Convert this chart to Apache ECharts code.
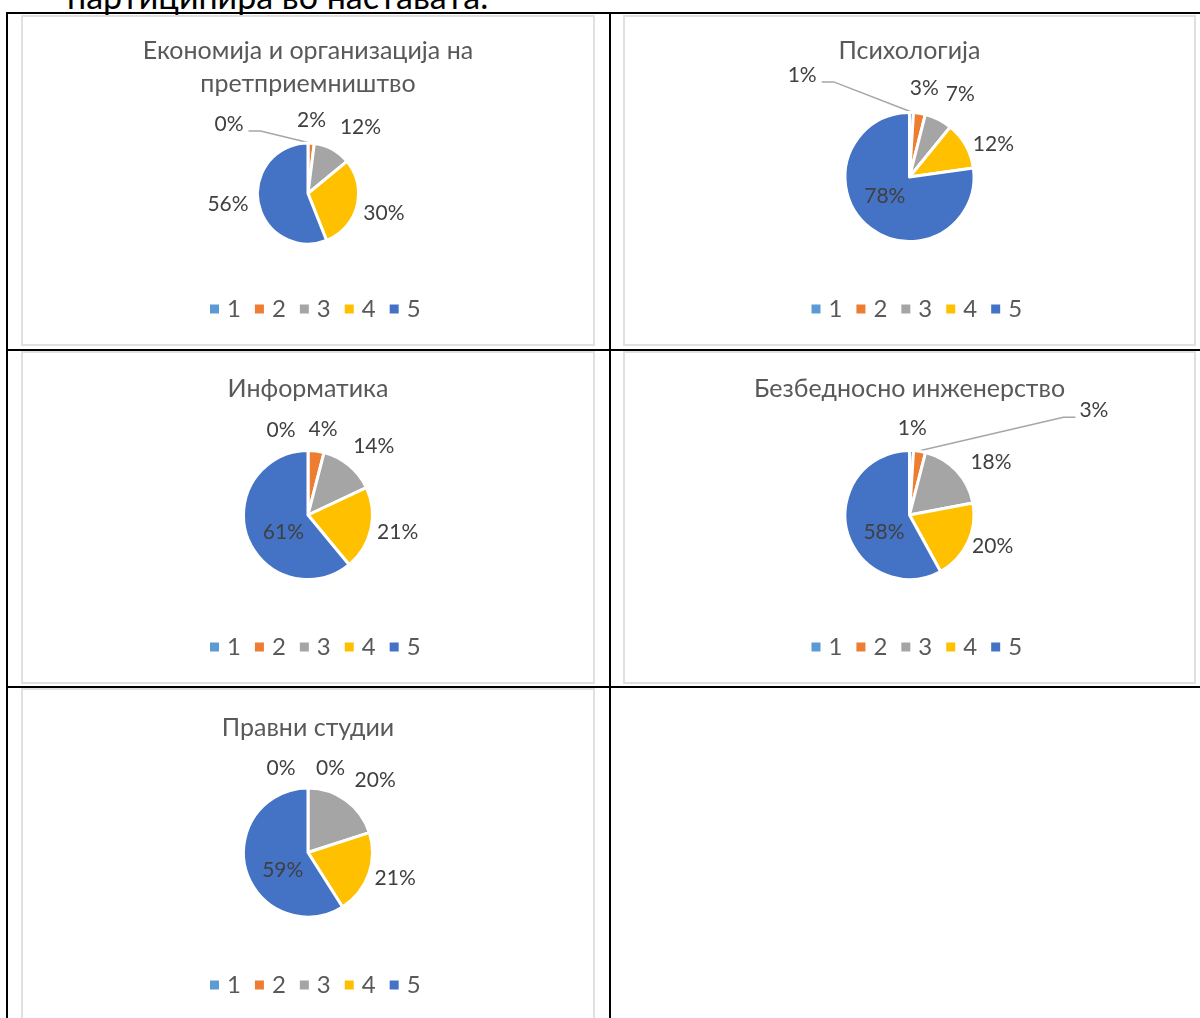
<!DOCTYPE html>
<html>
<head>
<meta charset="utf-8">
<script src="https://cdn.jsdelivr.net/npm/echarts@6/dist/echarts.min.js"></script>
<style>
  body { margin: 0; background: #fff; }
  #page { position: relative; width: 1200px; height: 1018px; overflow: hidden; font-family: Lato, "Open Sans", sans-serif; }
  .rule { position: absolute; background: #000; }
  .box { position: absolute; border: 2px solid #e0e0e0; box-sizing: border-box; background: #fff; }
  #heading { position: absolute; left: 67px; top: -21.5px; font-size: 34px; line-height: 34px; color: #000; white-space: nowrap; }
</style>
</head>
<body>
<div id="page">
  <div id="heading">партиципира во наставата.</div>
  <div class="rule" style="left:6px;top:12px;width:1194px;height:2px"></div>
  <div class="rule" style="left:6px;top:349px;width:1194px;height:2px"></div>
  <div class="rule" style="left:6px;top:686px;width:1194px;height:2px"></div>
  <div class="rule" style="left:6px;top:12px;width:2px;height:1006px"></div>
  <div class="rule" style="left:609px;top:12px;width:2px;height:1006px"></div>
</div>
<script>
// податоци
var categories = ["1", "2", "3", "4", "5"];
var titles = [
  "Економија и организација на\nпретприемништво",
  "Психологија",
  "Информатика",
  "Безбедносно инженерство",
  "Правни студии"
];
var econValues = [0, 2, 12, 30, 56];
var psyValues = [1, 3, 7, 12, 78];
var infoValues = [0, 4, 14, 21, 61];
var safetyValues = [1, 3, 18, 20, 58];
var lawValues = [0, 0, 20, 21, 59];
var seriesValues = [econValues, psyValues, infoValues, safetyValues, lawValues];

var colors = ["#5B9BD5", "#ED7D31", "#A5A5A5", "#FFC000", "#4472C4"];
var FONT = "Lato, 'Open Sans', sans-serif";

// распоред на ќелиите (кутии со графикони)
var cells = [
  { left: 21, top: 15, width: 574, height: 331, cy: 176.5, r: 49, titleY: 29, legendY: 287 },
  { left: 623, top: 15, width: 573, height: 331, cy: 160, r: 63, titleY: 29, legendY: 287 },
  { left: 21, top: 351, width: 574, height: 333, cy: 162, r: 63, titleY: 31, legendY: 289 },
  { left: 623, top: 351, width: 573, height: 333, cy: 162, r: 63, titleY: 31, legendY: 289 },
  { left: 21, top: 688, width: 574, height: 334, cy: 162.5, r: 63, titleY: 33, legendY: 290 }
];

// голем сектор со ознака внатре
var bigInside = [false, true, true, true, true];
// ознака со водечка линија
var leaderIndex = [0, 0, -1, 1, -1];
// поместувања на ознаките (како во Excel)
var labelNudge = [
  [[-79, 2.5], [-1, 0], [13, 6], [-2, 0], [-2, -4]],
  [[-110, -15.5], [1, -1], [9, 0], [-1, 15.5], [-4, -5]],
  [[-27, 1], [4, 1.5], [3.5, 6], [-2, -3], [5, 7]],
  [[0, 0], [170.5, -17], [10, 14.5], [-4.5, -10], [5, 9.5]],
  [[-27, 1.5], [22.5, 1.5], [10, 6], [-3, -7], [5, 9]]
];

function midDir(vals, i) {
  var sum = 0, acc = 0;
  for (var j = 0; j < vals.length; j++) {
    sum += vals[j];
    if (j < i) acc += vals[j];
  }
  var a = (acc + vals[i] / 2) / sum * Math.PI * 2;
  return [Math.sin(a), -Math.cos(a)];
}

function makeLabelLayout(k, cx) {
  var vals = seriesValues[k];
  var g = cells[k];
  return function (p) {
    var i = p.dataIndex;
    var w = p.labelRect.width;
    var dir = midDir(vals, i);
    var x, y;
    if (i === 4 && bigInside[k]) {
      x = cx + 0.5 * g.r * dir[0];
      y = g.cy + 0.5 * g.r * dir[1];
    } else {
      var d = g.r + (6 + w / 2) * Math.abs(dir[0]) + 23 * Math.abs(dir[1]);
      x = cx + d * dir[0];
      y = g.cy + d * dir[1];
    }
    x += labelNudge[k][i][0];
    y += labelNudge[k][i][1];
    var res = { x: x, y: y, align: "center", verticalAlign: "middle" };
    if (leaderIndex[k] === i) {
      var left = x < cx;
      var ex = left ? x + w / 2 + 5 : x - w / 2 - 4;
      var ey = y + 7;
      res.labelLinePoints = [
        [cx + (g.r + 2) * dir[0], g.cy + (g.r + 2) * dir[1]],
        [ex + (left ? 12 : -12), ey],
        [ex, ey]
      ];
    }
    return res;
  };
}

var page = document.getElementById("page");

cells.forEach(function (cell, k) {
  var box = document.createElement("div");
  box.className = "box";
  box.style.left = cell.left + "px";
  box.style.top = cell.top + "px";
  box.style.width = cell.width + "px";
  box.style.height = cell.height + "px";
  page.appendChild(box);

  var innerW = cell.width - 4;
  var cx = innerW / 2;
  var chart = echarts.init(box);

  var data = categories.map(function (c, i) {
    var item = { name: c, value: seriesValues[k][i] };
    if (leaderIndex[k] === i) {
      item.labelLine = { show: true };
    }
    return item;
  });

  chart.setOption({
    animation: false,
    color: colors,
    title: {
      text: titles[k],
      left: "center",
      top: cell.titleY - 16.5,
      textStyle: {
        fontFamily: FONT,
        fontSize: 25,
        fontWeight: "normal",
        color: "#595959",
        lineHeight: 33
      }
    },
    legend: {
      data: categories,
      left: cx - 103,
      top: cell.legendY - 12,
      icon: "rect",
      itemWidth: 9,
      itemHeight: 9,
      itemGap: 14,
      selectedMode: false,
      itemStyle: { borderWidth: 0 },
      textStyle: {
        fontFamily: FONT,
        fontSize: 24,
        lineHeight: 24,
        color: "#595959",
        padding: [0, 0, 0, 3]
      }
    },
    series: [
      {
        type: "pie",
        center: [cx, cell.cy],
        radius: cell.r + 1.5,
        startAngle: 90,
        clockwise: true,
        avoidLabelOverlap: false,
        silent: true,
        itemStyle: { borderColor: "#fff", borderWidth: 3 },
        label: {
          show: true,
          position: "outside",
          formatter: "{c}%",
          fontFamily: FONT,
          fontSize: 21,
          color: "#404040"
        },
        labelLine: {
          show: false,
          lineStyle: { color: "#a6a6a6", width: 1.5 }
        },
        labelLayout: makeLabelLayout(k, cx),
        data: data
      }
    ]
  });
});
</script>
</body>
</html>
